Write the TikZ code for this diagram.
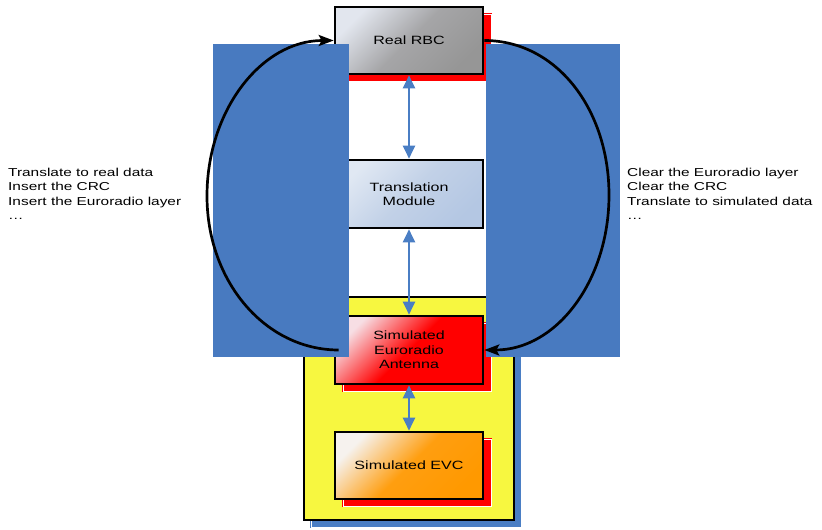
\documentclass[tikz,border=0pt]{standalone}
\usepackage{fontspec}
\setmainfont{Liberation Sans}[FakeStretch=1.34]
\usetikzlibrary{arrows.meta, shadows}

\definecolor{panelblue}{RGB}{72,122,192}
\definecolor{linkblue}{RGB}{74,126,196}
\definecolor{simyellow}{RGB}{247,247,64}

\begin{document}
\begin{tikzpicture}[
      x=1pt, y=-1pt,
      box/.style={draw, line width=2.6pt, minimum width=148pt, minimum height=67pt, inner sep=0pt, align=center, font=\fontsize{12}{14.5}\selectfont},
      redshadow/.style={general shadow={shadow xshift=8pt, shadow yshift=-7pt, fill=red, draw=red, double=white, double distance=0.5pt, line width=1pt}},
      note/.style={anchor=north west, inner sep=0pt, align=left, font=\fontsize{11.5}{14.3}\selectfont},
      panel/.style={fill=panelblue, anchor=north west, inner sep=0pt},
      link/.style={linkblue, line width=2pt, {Triangle[length=13pt,width=12pt]}-{Triangle[length=13pt,width=12pt]}},
      loop/.style={line width=2.7pt, -{Stealth[length=15pt,width=11pt,inset=3pt]}}
    ]
    \useasboundingbox (0,0) rectangle (822,530);

    % simulated side
    \node[draw, line width=2.4pt, fill=simyellow, minimum width=210pt, minimum height=223pt,
          general shadow={shadow xshift=7pt, shadow yshift=-7pt, fill=linkblue, draw=linkblue, double=white, double distance=0.5pt, line width=1pt}]
          (simside) at (409,408.5) {};

    \node[box, redshadow, top color={rgb,255:red,226;green,230;blue,238}, bottom color={rgb,255:red,150;green,150;blue,150},
          middle color={rgb,255:red,165;green,165;blue,167}, shading angle=45] (rbc) at (409,40.5) {Real RBC};
    \node[box, minimum height=68pt, top color={rgb,255:red,224;green,232;blue,243}, bottom color={rgb,255:red,180;green,199;blue,227},
          middle color={rgb,255:red,194;green,209;blue,231}, shading angle=45] (translation) at (409,194) {Translation\\Module};
    \node[box, minimum height=68pt, redshadow, top color={rgb,255:red,247;green,222;blue,228}, bottom color=red,
          middle color=red, shading angle=45] (antenna) at (409,350) {Simulated\\Euroradio\\Antenna};
    \node[box, redshadow, top color={rgb,255:red,246;green,242;blue,238}, bottom color={rgb,255:red,255;green,153;blue,0},
          middle color={rgb,255:red,255;green,158;blue,16}, shading angle=45] (evc) at (409,465.5) {Simulated EVC};

    \node[panel, minimum width=136pt, minimum height=313pt] (leftpanel) at (213,44) {};
    \node[panel, minimum width=134pt, minimum height=313pt] (rightpanel) at (486,44) {};

    \node[note] (insertnote) at (8,168) {Translate to real data\\Insert the CRC\\Insert the Euroradio layer\\\dots};
    \node[note] (clearnote) at (627,168) {Clear the Euroradio layer\\Clear the CRC\\Translate to simulated data\\\dots};

    \coordinate (leftturn) at (207,196);
    \coordinate (rightturn) at (609,195);

    \draw[link] (rbc) -- (translation);
    \draw[link] (translation) -- (antenna);
    \draw[link] (antenna) -- (evc);

    \draw[loop] ([xshift=5pt]antenna.west) .. controls +(-73,0) and +(0,86) .. (leftturn)
                .. controls +(0,-86) and +(-72,0) .. (rbc.west);
    \draw[loop] (rbc.east) .. controls +(72,0) and +(0,-86) .. (rightturn)
                .. controls +(0,86) and +(72,0) .. (antenna.east);
  \end{tikzpicture}
\end{document}
